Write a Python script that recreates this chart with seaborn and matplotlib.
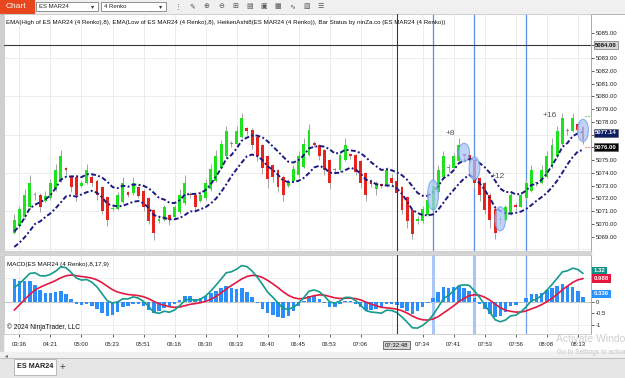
import matplotlib
matplotlib.use("Agg")
import matplotlib.pyplot as plt
import matplotlib.transforms as mtransforms
from matplotlib.patches import Rectangle, Ellipse
import seaborn as sns
import pandas as pd
import numpy as np

# Heiken Ashi bars on ES MAR24 (4 Renko)
ha_open = [5069.3, 5069.8, 5070.5, 5071.3, 5072.3, 5072.3, 5071.8, 5072.0, 5072.7, 5073.4,
           5074.4, 5073.7, 5073.7, 5073.0, 5073.2, 5073.7, 5073.4, 5072.9, 5072.1, 5071.15,
           5071.2, 5071.7, 5072.5, 5072.4, 5072.9, 5072.6, 5072.0, 5071.1, 5070.2, 5070.3,
           5070.7, 5070.5, 5070.9, 5071.6, 5072.35, 5072.3, 5071.8, 5072.0, 5072.7, 5073.4,
           5074.4, 5075.3, 5076.3, 5076.3, 5076.8, 5077.5, 5077.4, 5076.8, 5076.2, 5075.3,
           5074.6, 5074.2, 5073.7, 5073.0, 5073.4, 5073.8, 5074.5, 5075.4, 5076.35, 5076.2,
           5075.8, 5075.0, 5074.2, 5074.2, 5075.0, 5075.45, 5075.4, 5074.9, 5074.0, 5073.35,
           5072.7, 5073.1, 5073.05, 5073.6, 5073.4, 5072.9, 5072.1, 5071.1, 5070.2, 5070.2,
           5070.7, 5071.1, 5072.5, 5073.7, 5074.4, 5074.4, 5074.9, 5075.45, 5075.4, 5075.0,
           5073.6, 5073.2, 5072.3, 5071.2, 5070.3, 5070.3, 5070.8, 5071.5, 5071.35, 5072.0,
           5072.6, 5073.2, 5073.2, 5073.7, 5074.5, 5075.3, 5076.3, 5077.3, 5077.3, 5077.8,
           5077.6]
ha_close = [5070.3, 5071.2, 5072.3, 5073.2, 5072.3, 5071.3, 5072.2, 5073.2, 5074.2, 5075.3,
            5074.2, 5072.9, 5072.3, 5073.2, 5074.2, 5073.2, 5072.3, 5071.0, 5070.3, 5071.25,
            5072.3, 5073.2, 5072.3, 5073.2, 5072.2, 5071.3, 5070.2, 5069.3, 5070.35, 5071.3,
            5070.3, 5071.3, 5072.3, 5073.2, 5072.25, 5071.3, 5072.3, 5073.2, 5074.3, 5075.3,
            5076.3, 5077.3, 5076.3, 5077.3, 5078.3, 5077.3, 5076.2, 5075.3, 5074.4, 5073.5,
            5073.7, 5072.9, 5072.3, 5073.3, 5074.3, 5075.3, 5076.3, 5077.35, 5076.2, 5075.3,
            5074.2, 5073.2, 5074.2, 5075.4, 5076.2, 5075.3, 5074.1, 5073.2, 5072.3, 5073.1,
            5073.2, 5072.95, 5074.2, 5073.2, 5072.4, 5071.1, 5070.2, 5069.2, 5070.35, 5071.2,
            5071.9, 5073.0, 5074.2, 5075.3, 5074.4, 5075.3, 5076.2, 5075.3, 5075.0, 5073.2,
            5072.3, 5071.1, 5070.3, 5069.25, 5070.3, 5071.3, 5072.3, 5071.3, 5072.3, 5073.2,
            5074.2, 5073.2, 5074.2, 5075.3, 5076.2, 5077.25, 5078.3, 5077.3, 5078.3, 5077.4,
            5076.6]
ha_high = [5070.8, 5071.4, 5072.7, 5073.8, 5072.5, 5072.4, 5072.6, 5073.5, 5074.7, 5075.8,
           5074.5, 5073.8, 5073.8, 5073.4, 5074.7, 5073.9, 5073.5, 5073.0, 5072.2, 5071.4,
           5072.5, 5073.7, 5072.6, 5073.7, 5073.0, 5072.7, 5072.1, 5071.2, 5070.6, 5071.5,
           5070.8, 5071.5, 5072.7, 5073.8, 5072.5, 5072.4, 5072.6, 5073.5, 5074.7, 5075.8,
           5076.6, 5077.7, 5076.5, 5077.7, 5078.7, 5077.6, 5077.5, 5076.9, 5076.3, 5075.4,
           5074.7, 5074.3, 5073.8, 5073.5, 5074.6, 5075.7, 5076.7, 5077.8, 5076.5, 5076.3,
           5075.9, 5075.1, 5074.4, 5075.7, 5076.7, 5075.6, 5075.5, 5075.0, 5074.1, 5073.5,
           5073.4, 5073.2, 5074.5, 5073.9, 5073.5, 5073.0, 5072.2, 5071.2, 5070.6, 5071.4,
           5072.2, 5073.5, 5074.6, 5075.7, 5074.7, 5075.6, 5076.7, 5075.6, 5075.5, 5075.1,
           5073.7, 5073.3, 5072.4, 5071.3, 5070.6, 5071.5, 5072.6, 5071.6, 5072.5, 5073.5,
           5074.6, 5073.4, 5074.6, 5075.7, 5076.7, 5077.7, 5078.7, 5077.5, 5078.7, 5077.9,
           5077.7]
ha_low = [5069.2, 5069.7, 5070.4, 5071.2, 5071.9, 5070.9, 5071.7, 5071.9, 5072.6, 5073.3,
          5073.8, 5072.5, 5071.8, 5072.9, 5073.1, 5073.0, 5071.9, 5070.8, 5069.8, 5071.0,
          5071.1, 5071.6, 5072.1, 5072.3, 5072.0, 5071.0, 5070.0, 5068.7, 5070.1, 5070.2,
          5069.9, 5070.4, 5070.8, 5071.5, 5072.0, 5071.0, 5071.7, 5071.9, 5072.6, 5073.3,
          5074.3, 5075.2, 5076.0, 5076.2, 5076.7, 5077.0, 5075.9, 5074.9, 5073.9, 5072.8,
          5073.3, 5072.5, 5071.8, 5072.9, 5073.3, 5073.7, 5074.4, 5075.3, 5076.0, 5075.0,
          5073.8, 5072.7, 5073.9, 5074.1, 5074.9, 5075.1, 5073.8, 5072.8, 5071.8, 5072.9,
          5072.3, 5072.8, 5072.9, 5073.0, 5072.0, 5070.8, 5069.7, 5068.8, 5070.0, 5070.1,
          5070.6, 5071.0, 5072.4, 5073.6, 5074.1, 5074.3, 5074.8, 5075.0, 5074.8, 5072.8,
          5071.8, 5070.8, 5069.7, 5068.8, 5070.0, 5070.2, 5070.7, 5071.1, 5071.3, 5071.9,
          5072.5, 5073.0, 5073.1, 5073.6, 5074.4, 5075.2, 5076.2, 5077.0, 5077.2, 5077.2,
          5076.3]

# indicator state just before the first visible bar
ema_high_start = 5069.0
ema_low_start = 5067.9
macd_fast_start = 5068.8
macd_slow_start = 5068.3
macd_signal_start = -0.6

time_ticks = [1, 7, 13, 19, 25, 31, 37, 43, 49, 55, 61, 67, 79, 85, 91, 97, 103, 109]
time_labels = ['03:36', '04:21', '05:00', '05:23', '05:51', '06:16', '06:30', '06:33', '06:40',
               '06:45', '06:53', '07:06', '07:34', '07:41', '07:53', '07:56', '08:08', '08:13']
grid_bars = time_ticks + [73]
cursor_bar = 74
cursor_price = 5084.0

status_bars = [81, 89, 99]
ellipse_bars = [81, 87, 89, 94, 110]
ellipse_prices = [5072.27, 5075.6, 5074.36, 5070.4, 5077.33]
ellipse_heights = [2.35, 1.45, 1.8, 1.9, 1.75]
gain_bars = [84.3, 93.6, 103.6]
gain_prices = [5077.1, 5073.7, 5078.5]
gain_labels = ['+8', '+12', '+16']


def ema(values, start, span):
    alpha = 2.0 / (span + 1)
    out, prev = [], start
    for v in values:
        prev = prev + alpha * (v - prev)
        out.append(prev)
    return np.array(out)


sns.set_theme(style="white")
plt.rcParams['font.family'] = ['Liberation Sans', 'DejaVu Sans']

W, H = 625, 378


def px(x0, y0, x1, y1):
    return [x0 / W, 1 - y1 / H, (x1 - x0) / W, (y1 - y0) / H]


x = np.arange(len(ha_open))
df = pd.DataFrame({'bar': x, 'open': ha_open, 'close': ha_close,
                   'high': ha_high, 'low': ha_low})
df['ema_high'] = ema(df['high'], ema_high_start, 8)
df['ema_low'] = ema(df['low'], ema_low_start, 8)
df['macd'] = ema(df['close'], macd_fast_start, 8) - ema(df['close'], macd_slow_start, 17)
df['signal'] = ema(df['macd'], macd_signal_start, 9)
df['diff'] = df['macd'] - df['signal']

fig = plt.figure(figsize=(W / 100, H / 100), dpi=100)

# window chrome behind the panels
bg = fig.add_axes([0, 0, 1, 1], zorder=-5)
bg.set_xlim(0, W)
bg.set_ylim(H, 0)
bg.axis('off')
bg.add_patch(Rectangle((0, 0), W, 13, color='#f0f0f0'))
bg.add_patch(Rectangle((0, 0), 34, 12.5, color='#e8461c'))
bg.text(16, 6.5, 'Chart', color='white', fontsize=6, ha='center', va='center')
for x0, w, lab in [(36, 62, 'ES MAR24'), (101, 65, '4 Renko')]:
    bg.add_patch(Rectangle((x0, 2), w, 9, facecolor='white', edgecolor='#808080', lw=0.6))
    bg.text(x0 + 3, 6.6, lab, fontsize=4.3, va='center', color='#222')
    bg.text(x0 + w - 5, 6.4, '\u25be', fontsize=4.5, va='center', ha='center', color='#333')
icons = ['\u22ee', '\u270e', '\u2295', '\u2296', '\u229e', '\u25a4', '\u25a3', '\u25a6',
         '\u223f', '\u25a7', '\u2630']
for i, g in enumerate(icons):
    bg.text(178 + 14.3 * i, 6.5, g, fontsize=5, ha='center', va='center', color='#555',
            family=['DejaVu Sans'])
bg.plot([0, W], [13.5, 13.5], color='#a8a8a8', lw=0.6)
bg.add_patch(Rectangle((0, 14), 3, 338, color='#cfcfcf'))
bg.add_patch(Rectangle((0, 251.5), 591, 3, color='#d4d4d4'))
bg.add_patch(Rectangle((0, 352), W, 6, color='#f0f0f0'))
bg.text(5, 355.5, '\u25c2', fontsize=4, va='center', color='#555', family=['DejaVu Sans'])
bg.add_patch(Rectangle((0, 358), W, 20, color='#e6e6e6'))
bg.plot([0, W], [358, 358], color='#b8b8b8', lw=0.6)
bg.add_patch(Rectangle((14, 359), 42, 16, facecolor='white', edgecolor='#b0b0b0', lw=0.6))
bg.text(35, 367, 'ES MAR24', fontsize=5.2, ha='center', va='center', color='#222',
        fontweight='bold')
bg.text(62, 367, '+', fontsize=7, ha='center', va='center', color='#444')
bg.text(556, 339, 'Activate Windows', fontsize=7.5, va='center', color='#d0d0d0')
bg.text(557, 353, 'Go to Settings to activate Windows.', fontsize=4.8, va='center',
        color='#c4c4c4')

# price panel
ax = fig.add_axes(px(4, 14, 591, 251))
ax.set_xlim(-1.99, 111.55)
ax.set_ylim(5067.87, 5086.47)
for b in grid_bars:
    ax.axvline(b, color='#e9e9e9', lw=0.6, zorder=0)
for p in [5068, 5071, 5074, 5077, 5080, 5083]:
    ax.axhline(p, color='#e9e9e9', lw=0.6, zorder=0)
for b in status_bars:
    ax.axvline(b, color='#5b8fe6', lw=0.9, zorder=1)

colors = np.where(df['close'] > df['open'] + 0.02, '#1ee21e',
                  np.where(df['close'] < df['open'] - 0.02, '#e6231c', '#8a8a8a'))
ax.vlines(df['bar'], df['low'], df['high'], color='#a3a3a3', lw=0.7, zorder=2)
ax.bar(df['bar'], np.maximum((df['close'] - df['open']).abs(), 0.07),
       bottom=np.minimum(df['open'], df['close']), width=0.56, color=colors,
       linewidth=0, zorder=3)
for col in ['ema_high', 'ema_low']:
    sns.lineplot(data=df, x='bar', y=col, ax=ax, color='#1a1a82', lw=1.4,
                 linestyle=(0, (2.5, 1.2, 1, 1.2)), zorder=4)

for b, p, h in zip(ellipse_bars, ellipse_prices, ellipse_heights):
    ax.add_patch(Ellipse((b, p), 2.1, h, facecolor='#a8c5f5', edgecolor='#6b9be8',
                         lw=0.8, alpha=0.75, zorder=5))
for b, p, t in zip(gain_bars, gain_prices, gain_labels):
    ax.text(b, p, t, fontsize=6, color='#555', ha='center', va='center', zorder=6)
ax.hlines(5078.47, 110.4, 111.6, color='#30b030', lw=0.8, linestyles=':', zorder=4)
ax.hlines(5076.0, 110.4, 111.6, color='#e03030', lw=0.8, linestyles=':', zorder=4)

ax.axhline(cursor_price, color='#3a3a3a', lw=0.8, zorder=6)
ax.axvline(cursor_bar, color='#3a3a3a', lw=0.8, zorder=6)

# value boxes sit where these tick labels would be
price_ticks = np.arange(5069, 5086, 1.0)
hidden_price = [5076.0, 5077.0, 5084.0]
ax.yaxis.tick_right()
ax.set_yticks(price_ticks)
ax.set_yticklabels(['' if v in hidden_price else f'{v:.2f}' for v in price_ticks])
ax.tick_params(axis='y', labelsize=4.3, length=2, width=0.5, pad=1.5, colors='#222',
               right=True)
ax.set_xticks([])
ax.set_xlabel('')
ax.set_ylabel('')
for s in ax.spines.values():
    s.set_color('#c8c8c8')
    s.set_linewidth(0.6)
ax.spines['right'].set_color('#9a9a9a')

ytr = mtransforms.blended_transform_factory(ax.transAxes, ax.transData)
for val, txt, fc, tc in [(5084.0, '5084.00', '#d6d6d6', '#111'),
                         (5077.14, '5077.14', '#0b1f66', 'white'),
                         (5076.0, '5076.00', '#050505', 'white')]:
    ax.text(1.007, val, txt, transform=ytr, fontsize=4.3, va='center', ha='left',
            color=tc, fontweight='bold', clip_on=False, zorder=10,
            bbox=dict(boxstyle='square,pad=0.25', fc=fc, ec='#555', lw=0.4))

# MACD panel
ax2 = fig.add_axes(px(4, 255, 591, 334))
ax2.set_xlim(-1.99, 111.55)
ax2.set_ylim(-1.38, 2.0)
for b in grid_bars:
    ax2.axvline(b, color='#e9e9e9', lw=0.6, zorder=0)
for v in [-1, 1]:
    ax2.axhline(v, color='#ececec', lw=0.6, zorder=0)
ax2.axhline(0, color='#c4c4c4', lw=0.7, zorder=0)
for b, c, w in zip(status_bars, ['#a9c6f5', '#a9c6f5', '#6d9deb'], [2.2, 2.2, 0.9]):
    ax2.axvline(b, color=c, lw=w, zorder=1)
ax2.bar(df['bar'], df['diff'], width=0.68, color='#2a8ffc', linewidth=0, zorder=2)
sns.lineplot(data=df, x='bar', y='signal', ax=ax2, color='#e3193f', lw=1.2, zorder=3)
sns.lineplot(data=df, x='bar', y='macd', ax=ax2, color='#159a8c', lw=1.2, zorder=4)
ax2.axvline(cursor_bar, color='#3a3a3a', lw=0.8, zorder=6)
ax2.text(0.005, 0.88, 'MACD(ES MAR24 (4 Renko),8,17,9)', transform=ax2.transAxes,
         fontsize=4.5, color='#111', va='center', zorder=8)
ax2.text(0.005, 0.09, '\u00a9 2024 NinjaTrader, LLC', transform=ax2.transAxes,
         fontsize=4.8, color='#111', va='center', zorder=8)

ax2.yaxis.tick_right()
macd_ticks = [-1, -0.5, 0, 0.5, 1, 1.5]
ax2.set_yticks(macd_ticks)
ax2.set_yticklabels(['-1', '-0.5', '0', '', '', ''])
ax2.tick_params(axis='y', labelsize=4.3, length=2, width=0.5, pad=1.5, colors='#222',
                right=True)
ax2.set_xticks(time_ticks)
ax2.set_xticklabels(time_labels)
ax2.tick_params(axis='x', labelsize=4.3, length=2, width=0.5, pad=4, colors='#222',
                bottom=True)
ax2.set_xlabel('')
ax2.set_ylabel('')
for s in ax2.spines.values():
    s.set_color('#c8c8c8')
    s.set_linewidth(0.6)
ax2.spines['right'].set_color('#9a9a9a')

ytr2 = mtransforms.blended_transform_factory(ax2.transAxes, ax2.transData)
for val, txt, fc in [(1.32, '1.32', '#0f8f86'), (0.988, '0.988', '#e3163f'),
                     (0.336, '0.336', '#2b91ff')]:
    ax2.text(1.005, val, txt, transform=ytr2, fontsize=4.3, va='center', ha='left',
             color='white', fontweight='bold', clip_on=False, zorder=10,
             bbox=dict(boxstyle='square,pad=0.3', fc=fc, ec='none'))
xtr2 = mtransforms.blended_transform_factory(ax2.transData, ax2.transAxes)
ax2.text(cursor_bar, -0.14, '07:32:48', transform=xtr2, fontsize=4.3, ha='center',
         va='center', color='#111', clip_on=False, zorder=10,
         bbox=dict(boxstyle='square,pad=0.3', fc='#d8d8d8', ec='#444', lw=0.5))

# overlay text on top of the price panel
ov = fig.add_axes([0, 0, 1, 1], zorder=20)
ov.set_xlim(0, W)
ov.set_ylim(H, 0)
ov.axis('off')
ov.patch.set_alpha(0)
ov.text(6, 22.5, 'EMA(High of ES MAR24 (4 Renko),8), EMA(Low of ES MAR24 (4 Renko),8), '
        'HeikenAshi8(ES MAR24 (4 Renko)), Bar Status by ninZa.co (ES MAR24 (4 Renko))',
        fontsize=4.4, color='#111', va='center')

fig.savefig('out.png', dpi=100)
plt.close(fig)
